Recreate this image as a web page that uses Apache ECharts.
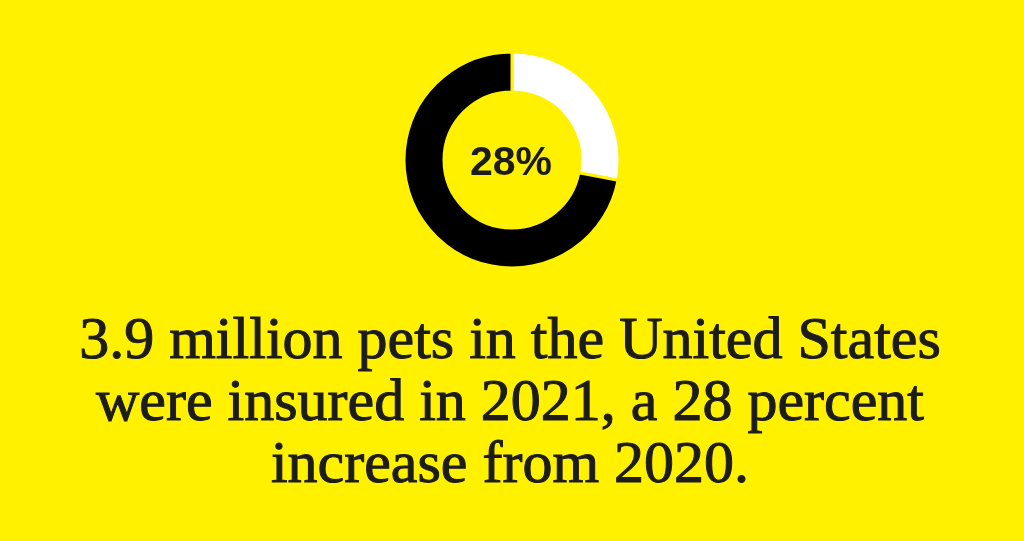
<!DOCTYPE html>
<html>
<head>
<meta charset="utf-8">
<script src="https://cdn.jsdelivr.net/npm/echarts@6/dist/echarts.min.js"></script>
<style>
  html, body { margin: 0; padding: 0; background: #fff100; }
  #main { width: 1024px; height: 541px; }
</style>
</head>
<body>
<div id="main"></div>
<script>
// share of pets insured growth
const sliceNames = ['Increase', 'Rest'];
const sliceValues = [28, 72];
const sliceColors = ['#ffffff', '#000000'];
const centerLabel = '28%';
const captionLines = [
    '3.9 million pets in the United States',
    'were insured in 2021, a 28 percent',
    'increase from 2020.'
];

const chart = echarts.init(document.getElementById('main'));

chart.setOption({
    backgroundColor: '#fff100',
    animation: false,
    title: [
        {
            text: centerLabel,
            left: 511,
            top: 143,
            padding: 0,
            textAlign: 'center',
            textStyle: {
                fontFamily: 'Liberation Sans, Arial, sans-serif',
                fontWeight: 'bold',
                fontSize: 41,
                color: '#1c1c1c'
            }
        },
        {
            text: captionLines.join('\n'),
            left: 510,
            top: 311,
            padding: 0,
            textAlign: 'center',
            textStyle: {
                fontFamily: 'Liberation Serif, Times New Roman, serif',
                fontWeight: 'normal',
                fontSize: 60,
                lineHeight: 62,
                color: '#1c1c1c',
                textBorderColor: '#1c1c1c',
                textBorderWidth: 1
            }
        }
    ],
    series: [{
        type: 'pie',
        center: [512, 160],
        radius: [68, 108],
        startAngle: 90,
        clockwise: true,
        silent: true,
        label: { show: false },
        labelLine: { show: false },
        itemStyle: { borderColor: '#fff100', borderWidth: 3 },
        data: sliceNames.map((n, i) => ({
            name: n,
            value: sliceValues[i],
            itemStyle: { color: sliceColors[i] }
        }))
    }]
});
</script>
</body>
</html>
